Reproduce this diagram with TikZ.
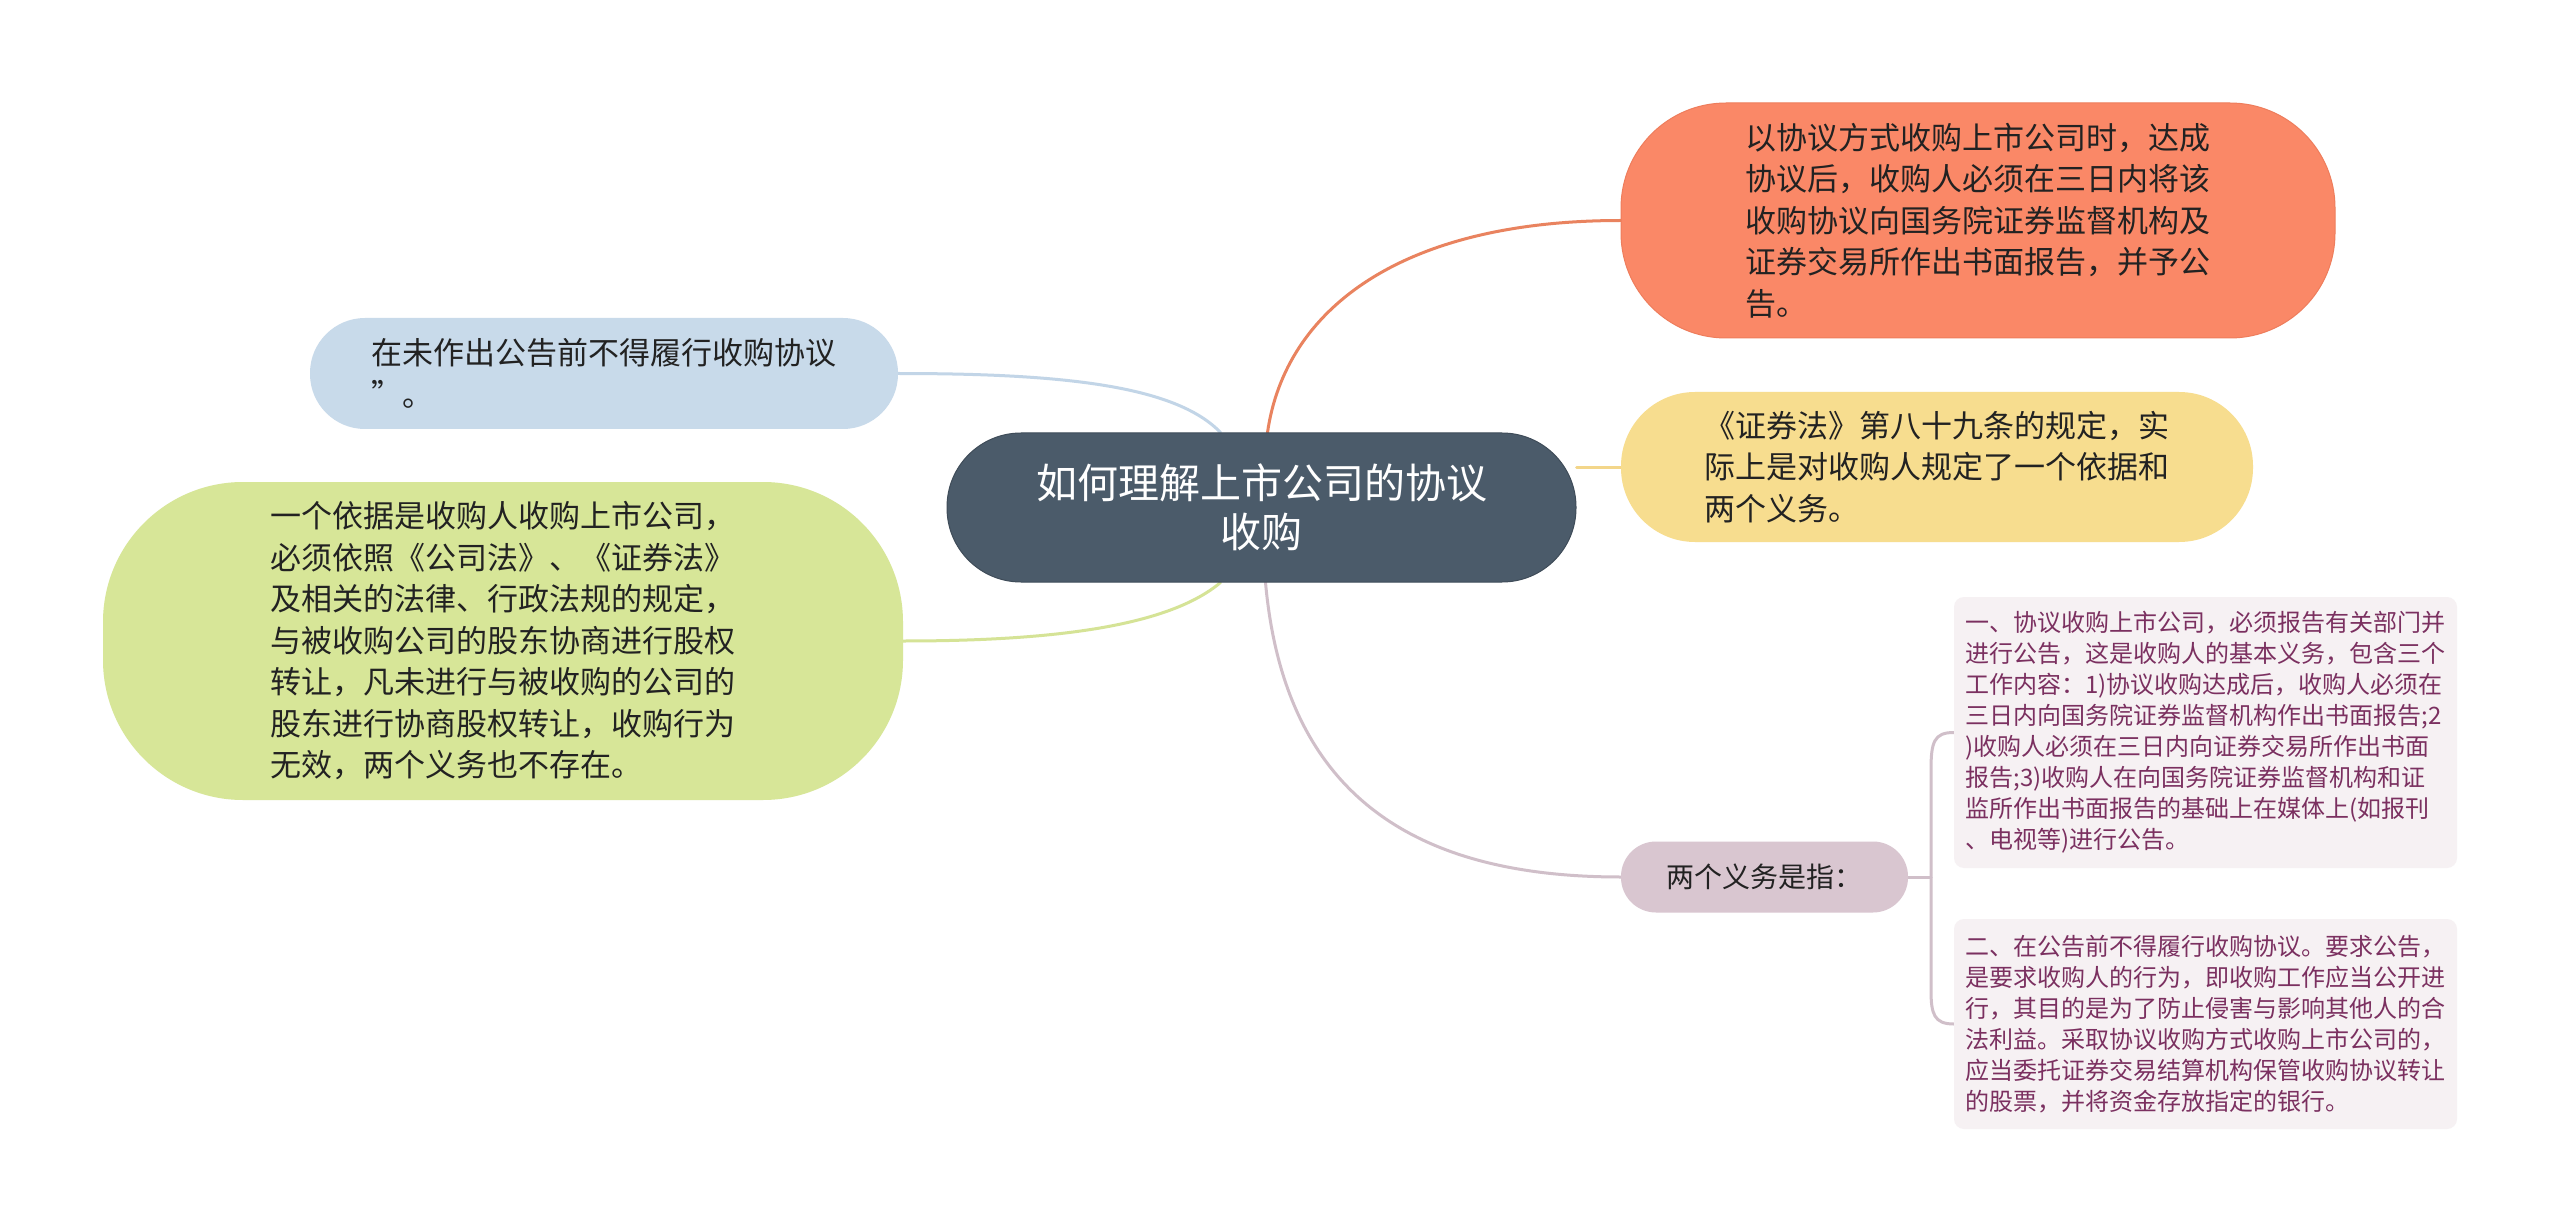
\documentclass[tikz,border=0pt]{standalone}
\usepackage{fontspec}
\setmainfont{Noto Sans CJK SC}
\usetikzlibrary{calc,backgrounds}
\definecolor{rootc}{HTML}{4B5B6A}
\definecolor{rootd}{HTML}{3F4C59}
\definecolor{orangec}{HTML}{FA8867}
\definecolor{oranged}{HTML}{EE7D5C}
\definecolor{orangel}{HTML}{E9835F}
\definecolor{yellowc}{HTML}{F7DD8F}
\definecolor{yellowl}{HTML}{F3D68A}
\definecolor{bluec}{HTML}{C8DAEA}
\definecolor{bluel}{HTML}{C2D5E7}
\definecolor{greenc}{HTML}{D7E698}
\definecolor{greenl}{HTML}{D5E396}
\definecolor{mauvec}{HTML}{D9C6D0}
\definecolor{mauvel}{HTML}{D0BFC9}
\definecolor{boxc}{HTML}{F6F1F3}
\definecolor{boxt}{HTML}{7B3060}
\definecolor{txt}{HTML}{222222}
\begin{document}
\begin{tikzpicture}[x=1pt,y=-1pt,
  bubble/.style={inner sep=0pt, align=left, text=txt},
  bigtext/.style={font=\fontsize{31}{41.5}\selectfont},
  conn/.style={line width=3pt, line cap=round},
  leafbox/.style={fill=boxc, rounded corners=10pt, inner sep=0pt, align=left, text=boxt,
     font=\fontsize{24}{31}\selectfont, minimum width=503pt}]
\useasboundingbox (0,0) rectangle (2560,1230);

% central node
\node[bubble, fill=rootc, draw=rootd, line width=1pt, rounded corners=74pt,
  minimum width=629pt, minimum height=149pt, text=white, align=center,
  font=\fontsize{41}{49}\selectfont] (root) at (1261.5,507.5)
  {如何理解上市公司的协议\\收购};

% right branches
\node[bubble, bigtext, fill=orangec, draw=oranged, line width=1pt, rounded corners=105pt,
  minimum width=714pt, minimum height=235pt] (orange) at (1978,220.5)
  {以协议方式收购上市公司时，达成\\协议后，收购人必须在三日内将该\\收购协议向国务院证券监督机构及\\证券交易所作出书面报告，并予公\\告。};

\node[bubble, bigtext, fill=yellowc, rounded corners=74pt,
  minimum width=632pt, minimum height=150pt] (yellow) at (1937,467)
  {《证券法》第八十九条的规定，实\\际上是对收购人规定了一个依据和\\两个义务。};

\node[bubble, fill=mauvec, rounded corners=35pt, minimum width=287pt, minimum height=71pt,
  font=\fontsize{28}{34}\selectfont] (two) at (1764.5,877) {两个义务是指：};

\node[leafbox, minimum height=271pt] (b1) at (2205.5,732.5)
  {一、协议收购上市公司，必须报告有关部门并\\进行公告，这是收购人的基本义务，包含三个\\工作内容：1)协议收购达成后，收购人必须在\\三日内向国务院证券监督机构作出书面报告;2\\)收购人必须在三日内向证券交易所作出书面\\报告;3)收购人在向国务院证券监督机构和证\\监所作出书面报告的基础上在媒体上(如报刊\\、电视等)进行公告。};

\node[leafbox, minimum height=210pt] (b2) at (2205.5,1024)
  {二、在公告前不得履行收购协议。要求公告，\\是要求收购人的行为，即收购工作应当公开进\\行，其目的是为了防止侵害与影响其他人的合\\法利益。采取协议收购方式收购上市公司的，\\应当委托证券交易结算机构保管收购协议转让\\的股票，并将资金存放指定的银行。};

% left branches
\node[bubble, bigtext, fill=bluec, rounded corners=55pt,
  minimum width=588pt, minimum height=111pt] (blue) at (604,373.5)
  {在未作出公告前不得履行收购协议\\”。};

\node[bubble, bigtext, fill=greenc, rounded corners=140pt,
  minimum width=800pt, minimum height=318pt] (green) at (503,641)
  {一个依据是收购人收购上市公司，\\必须依照《公司法》、《证券法》\\及相关的法律、行政法规的规定，\\与被收购公司的股东协商进行股权\\转让，凡未进行与被收购的公司的\\股东进行协商股权转让，收购行为\\无效，两个义务也不存在。};

\coordinate (bx) at (1931,877);

\begin{pgfonlayer}{background}
\fill[white] (0,0) rectangle (2560,1230);
\draw[conn, draw=orangel] ($(root.north)+(6,0)$) .. controls (1285,310) and (1400,220.5) .. (orange.west);
\draw[conn, draw=yellowl] (yellow.west -| root.east) -- (yellow.west);
\draw[conn, draw=mauvel] ($(root.south)+(4,0)$) .. controls (1285,800) and (1420,877) .. (two.west);
\draw[conn, draw=bluel] ($(root.north)+(-41,0)$) .. controls (1175,385) and (1060,373.5) .. (blue.east);
\draw[conn, draw=greenl] ($(root.south)+(-41,0)$) .. controls (1170,625) and (1060,641) .. (green.east);
\draw[conn, draw=mauvel] (two.east) -- (bx);
\draw[conn, draw=mauvel] (b1.west) .. controls (1934,732.5) and (1931,742) .. (1931,770)
  -- (1931,990) .. controls (1931,1014) and (1934,1024) .. (b2.west);
\end{pgfonlayer}
\end{tikzpicture}
\end{document}
